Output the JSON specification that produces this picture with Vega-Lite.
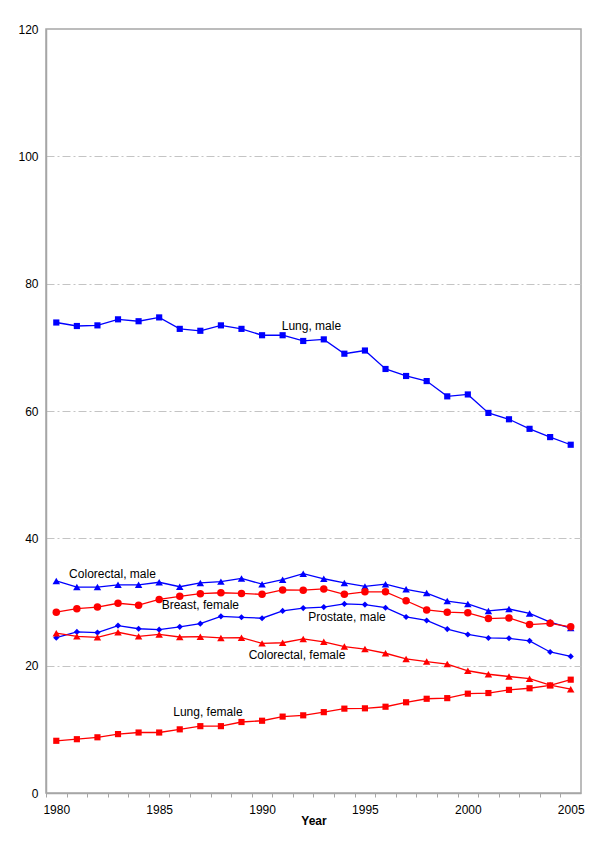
{
  "$schema": "https://vega.github.io/schema/vega-lite/v6.json",
  "description": "Age-standardised cancer rates by site and sex, 1980-2005.",
  "width": 535,
  "height": 764,
  "autosize": "none",
  "padding": {"left": 46, "top": 29, "right": 19, "bottom": 56},
  "background": "white",
  "config": {
    "font": "Liberation Sans",
    "view": {"stroke": "#a6a6a6", "strokeWidth": 1.5},
    "axis": {
      "labelFont": "Liberation Sans",
      "labelFontSize": 12,
      "labelColor": "black",
      "titleFont": "Liberation Sans",
      "titleColor": "black",
      "domainColor": "#a6a6a6",
      "domainWidth": 1.5,
      "tickColor": "#a6a6a6"
    }
  },
  "datasets": {
    "rates": [
      {"year": 1980, "series": "Lung, male", "rate": 73.9},
      {"year": 1981, "series": "Lung, male", "rate": 73.35},
      {"year": 1982, "series": "Lung, male", "rate": 73.45},
      {"year": 1983, "series": "Lung, male", "rate": 74.4},
      {"year": 1984, "series": "Lung, male", "rate": 74.1},
      {"year": 1985, "series": "Lung, male", "rate": 74.7},
      {"year": 1986, "series": "Lung, male", "rate": 72.9},
      {"year": 1987, "series": "Lung, male", "rate": 72.6},
      {"year": 1988, "series": "Lung, male", "rate": 73.45},
      {"year": 1989, "series": "Lung, male", "rate": 72.9},
      {"year": 1990, "series": "Lung, male", "rate": 71.9},
      {"year": 1991, "series": "Lung, male", "rate": 71.9},
      {"year": 1992, "series": "Lung, male", "rate": 71.0},
      {"year": 1993, "series": "Lung, male", "rate": 71.25},
      {"year": 1994, "series": "Lung, male", "rate": 69.0},
      {"year": 1995, "series": "Lung, male", "rate": 69.5},
      {"year": 1996, "series": "Lung, male", "rate": 66.6},
      {"year": 1997, "series": "Lung, male", "rate": 65.5},
      {"year": 1998, "series": "Lung, male", "rate": 64.7},
      {"year": 1999, "series": "Lung, male", "rate": 62.3},
      {"year": 2000, "series": "Lung, male", "rate": 62.6},
      {"year": 2001, "series": "Lung, male", "rate": 59.7},
      {"year": 2002, "series": "Lung, male", "rate": 58.7},
      {"year": 2003, "series": "Lung, male", "rate": 57.2},
      {"year": 2004, "series": "Lung, male", "rate": 55.9},
      {"year": 2005, "series": "Lung, male", "rate": 54.7},
      {"year": 1980, "series": "Colorectal, male", "rate": 33.3},
      {"year": 1981, "series": "Colorectal, male", "rate": 32.35},
      {"year": 1982, "series": "Colorectal, male", "rate": 32.35},
      {"year": 1983, "series": "Colorectal, male", "rate": 32.7},
      {"year": 1984, "series": "Colorectal, male", "rate": 32.7},
      {"year": 1985, "series": "Colorectal, male", "rate": 33.1},
      {"year": 1986, "series": "Colorectal, male", "rate": 32.4},
      {"year": 1987, "series": "Colorectal, male", "rate": 33.0},
      {"year": 1988, "series": "Colorectal, male", "rate": 33.2},
      {"year": 1989, "series": "Colorectal, male", "rate": 33.7},
      {"year": 1990, "series": "Colorectal, male", "rate": 32.8},
      {"year": 1991, "series": "Colorectal, male", "rate": 33.5},
      {"year": 1992, "series": "Colorectal, male", "rate": 34.45},
      {"year": 1993, "series": "Colorectal, male", "rate": 33.65},
      {"year": 1994, "series": "Colorectal, male", "rate": 33.0},
      {"year": 1995, "series": "Colorectal, male", "rate": 32.45},
      {"year": 1996, "series": "Colorectal, male", "rate": 32.8},
      {"year": 1997, "series": "Colorectal, male", "rate": 32.0},
      {"year": 1998, "series": "Colorectal, male", "rate": 31.4},
      {"year": 1999, "series": "Colorectal, male", "rate": 30.15},
      {"year": 2000, "series": "Colorectal, male", "rate": 29.7},
      {"year": 2001, "series": "Colorectal, male", "rate": 28.6},
      {"year": 2002, "series": "Colorectal, male", "rate": 28.9},
      {"year": 2003, "series": "Colorectal, male", "rate": 28.2},
      {"year": 2004, "series": "Colorectal, male", "rate": 26.85},
      {"year": 2005, "series": "Colorectal, male", "rate": 25.9},
      {"year": 1980, "series": "Breast, female", "rate": 28.4},
      {"year": 1981, "series": "Breast, female", "rate": 28.95},
      {"year": 1982, "series": "Breast, female", "rate": 29.2},
      {"year": 1983, "series": "Breast, female", "rate": 29.8},
      {"year": 1984, "series": "Breast, female", "rate": 29.5},
      {"year": 1985, "series": "Breast, female", "rate": 30.4},
      {"year": 1986, "series": "Breast, female", "rate": 30.9},
      {"year": 1987, "series": "Breast, female", "rate": 31.3},
      {"year": 1988, "series": "Breast, female", "rate": 31.45},
      {"year": 1989, "series": "Breast, female", "rate": 31.35},
      {"year": 1990, "series": "Breast, female", "rate": 31.2},
      {"year": 1991, "series": "Breast, female", "rate": 31.9},
      {"year": 1992, "series": "Breast, female", "rate": 31.85},
      {"year": 1993, "series": "Breast, female", "rate": 32.05},
      {"year": 1994, "series": "Breast, female", "rate": 31.2},
      {"year": 1995, "series": "Breast, female", "rate": 31.6},
      {"year": 1996, "series": "Breast, female", "rate": 31.6},
      {"year": 1997, "series": "Breast, female", "rate": 30.2},
      {"year": 1998, "series": "Breast, female", "rate": 28.75},
      {"year": 1999, "series": "Breast, female", "rate": 28.4},
      {"year": 2000, "series": "Breast, female", "rate": 28.3},
      {"year": 2001, "series": "Breast, female", "rate": 27.4},
      {"year": 2002, "series": "Breast, female", "rate": 27.5},
      {"year": 2003, "series": "Breast, female", "rate": 26.45},
      {"year": 2004, "series": "Breast, female", "rate": 26.65},
      {"year": 2005, "series": "Breast, female", "rate": 26.1},
      {"year": 1980, "series": "Prostate, male", "rate": 24.4},
      {"year": 1981, "series": "Prostate, male", "rate": 25.3},
      {"year": 1982, "series": "Prostate, male", "rate": 25.2},
      {"year": 1983, "series": "Prostate, male", "rate": 26.3},
      {"year": 1984, "series": "Prostate, male", "rate": 25.8},
      {"year": 1985, "series": "Prostate, male", "rate": 25.65},
      {"year": 1986, "series": "Prostate, male", "rate": 26.1},
      {"year": 1987, "series": "Prostate, male", "rate": 26.6},
      {"year": 1988, "series": "Prostate, male", "rate": 27.75},
      {"year": 1989, "series": "Prostate, male", "rate": 27.6},
      {"year": 1990, "series": "Prostate, male", "rate": 27.45},
      {"year": 1991, "series": "Prostate, male", "rate": 28.6},
      {"year": 1992, "series": "Prostate, male", "rate": 29.05},
      {"year": 1993, "series": "Prostate, male", "rate": 29.2},
      {"year": 1994, "series": "Prostate, male", "rate": 29.7},
      {"year": 1995, "series": "Prostate, male", "rate": 29.6},
      {"year": 1996, "series": "Prostate, male", "rate": 29.1},
      {"year": 1997, "series": "Prostate, male", "rate": 27.65},
      {"year": 1998, "series": "Prostate, male", "rate": 27.1},
      {"year": 1999, "series": "Prostate, male", "rate": 25.75},
      {"year": 2000, "series": "Prostate, male", "rate": 24.9},
      {"year": 2001, "series": "Prostate, male", "rate": 24.35},
      {"year": 2002, "series": "Prostate, male", "rate": 24.3},
      {"year": 2003, "series": "Prostate, male", "rate": 23.9},
      {"year": 2004, "series": "Prostate, male", "rate": 22.15},
      {"year": 2005, "series": "Prostate, male", "rate": 21.45},
      {"year": 1980, "series": "Colorectal, female", "rate": 25.1},
      {"year": 1981, "series": "Colorectal, female", "rate": 24.6},
      {"year": 1982, "series": "Colorectal, female", "rate": 24.45},
      {"year": 1983, "series": "Colorectal, female", "rate": 25.25},
      {"year": 1984, "series": "Colorectal, female", "rate": 24.6},
      {"year": 1985, "series": "Colorectal, female", "rate": 24.9},
      {"year": 1986, "series": "Colorectal, female", "rate": 24.5},
      {"year": 1987, "series": "Colorectal, female", "rate": 24.55},
      {"year": 1988, "series": "Colorectal, female", "rate": 24.35},
      {"year": 1989, "series": "Colorectal, female", "rate": 24.4},
      {"year": 1990, "series": "Colorectal, female", "rate": 23.5},
      {"year": 1991, "series": "Colorectal, female", "rate": 23.6},
      {"year": 1992, "series": "Colorectal, female", "rate": 24.2},
      {"year": 1993, "series": "Colorectal, female", "rate": 23.75},
      {"year": 1994, "series": "Colorectal, female", "rate": 23.0},
      {"year": 1995, "series": "Colorectal, female", "rate": 22.6},
      {"year": 1996, "series": "Colorectal, female", "rate": 21.95},
      {"year": 1997, "series": "Colorectal, female", "rate": 21.05},
      {"year": 1998, "series": "Colorectal, female", "rate": 20.65},
      {"year": 1999, "series": "Colorectal, female", "rate": 20.25},
      {"year": 2000, "series": "Colorectal, female", "rate": 19.2},
      {"year": 2001, "series": "Colorectal, female", "rate": 18.65},
      {"year": 2002, "series": "Colorectal, female", "rate": 18.3},
      {"year": 2003, "series": "Colorectal, female", "rate": 17.95},
      {"year": 2004, "series": "Colorectal, female", "rate": 16.95},
      {"year": 2005, "series": "Colorectal, female", "rate": 16.3},
      {"year": 1980, "series": "Lung, female", "rate": 8.2},
      {"year": 1981, "series": "Lung, female", "rate": 8.45},
      {"year": 1982, "series": "Lung, female", "rate": 8.75},
      {"year": 1983, "series": "Lung, female", "rate": 9.25},
      {"year": 1984, "series": "Lung, female", "rate": 9.5},
      {"year": 1985, "series": "Lung, female", "rate": 9.5},
      {"year": 1986, "series": "Lung, female", "rate": 10.0},
      {"year": 1987, "series": "Lung, female", "rate": 10.5},
      {"year": 1988, "series": "Lung, female", "rate": 10.5},
      {"year": 1989, "series": "Lung, female", "rate": 11.15},
      {"year": 1990, "series": "Lung, female", "rate": 11.35},
      {"year": 1991, "series": "Lung, female", "rate": 12.0},
      {"year": 1992, "series": "Lung, female", "rate": 12.2},
      {"year": 1993, "series": "Lung, female", "rate": 12.7},
      {"year": 1994, "series": "Lung, female", "rate": 13.25},
      {"year": 1995, "series": "Lung, female", "rate": 13.3},
      {"year": 1996, "series": "Lung, female", "rate": 13.55},
      {"year": 1997, "series": "Lung, female", "rate": 14.25},
      {"year": 1998, "series": "Lung, female", "rate": 14.8},
      {"year": 1999, "series": "Lung, female", "rate": 14.9},
      {"year": 2000, "series": "Lung, female", "rate": 15.6},
      {"year": 2001, "series": "Lung, female", "rate": 15.7},
      {"year": 2002, "series": "Lung, female", "rate": 16.2},
      {"year": 2003, "series": "Lung, female", "rate": 16.45},
      {"year": 2004, "series": "Lung, female", "rate": 16.9},
      {"year": 2005, "series": "Lung, female", "rate": 17.8}
    ],
    "labels": [
      {"label": "Lung, male", "year": 1992.4, "rate": 73.35},
      {"label": "Colorectal, male", "year": 1982.73, "rate": 34.4},
      {"label": "Breast, female", "year": 1987.0, "rate": 29.5},
      {"label": "Prostate, male", "year": 1994.13, "rate": 27.7},
      {"label": "Colorectal, female", "year": 1991.7, "rate": 21.67},
      {"label": "Lung, female", "year": 1987.37, "rate": 12.75}
    ]
  },
  "encoding": {
    "x": {
      "field": "year",
      "type": "quantitative",
      "scale": {"domain": [1979.5, 2005.5], "nice": false, "zero": false},
      "axis": {
        "title": "Year",
        "titleFontWeight": "bold",
        "titleFontSize": 12,
        "titlePadding": 0,
        "values": [1980, 1981, 1982, 1983, 1984, 1985, 1986, 1987, 1988, 1989, 1990, 1991, 1992, 1993, 1994, 1995, 1996, 1997, 1998, 1999, 2000, 2001, 2002, 2003, 2004, 2005],
        "format": "d",
        "labelExpr": "datum.value % 5 === 0 ? datum.label : ''",
        "tickOffset": -10.29,
        "labelOffset": 10.29,
        "tickSize": 4,
        "labelPadding": 7,
        "labelFlush": false,
        "labelOverlap": false,
        "grid": false
      }
    },
    "y": {
      "field": "rate",
      "type": "quantitative",
      "scale": {"domain": [0, 120], "nice": false},
      "axis": {
        "title": null,
        "values": [0, 20, 40, 60, 80, 100, 120],
        "ticks": false,
        "labelPadding": 8,
        "grid": true,
        "gridColor": {
          "condition": {"test": "datum.value === 0 || datum.value === 120", "value": "transparent"},
          "value": "#c4c4c4"
        },
        "gridDash": [8, 3, 2, 3],
        "gridWidth": 1
      }
    },
    "color": {
      "field": "series",
      "type": "nominal",
      "scale": {
        "domain": ["Lung, male", "Colorectal, male", "Prostate, male", "Breast, female", "Colorectal, female", "Lung, female"],
        "range": ["#0000ff", "#0000ff", "#0000ff", "#ff0000", "#ff0000", "#ff0000"]
      },
      "legend": null
    },
    "shape": {
      "field": "series",
      "type": "nominal",
      "scale": {
        "domain": ["Lung, male", "Colorectal, male", "Prostate, male", "Breast, female", "Colorectal, female", "Lung, female"],
        "range": ["square", "triangle-up", "diamond", "circle", "triangle-up", "square"]
      },
      "legend": null
    }
  },
  "layer": [
    {
      "data": {"name": "rates"},
      "mark": {"type": "line", "strokeWidth": 1.3},
      "encoding": {"shape": null}
    },
    {
      "data": {"name": "rates"},
      "transform": [{"filter": "indexof(['Lung, male', 'Prostate, male', 'Lung, female'], datum.series) >= 0"}],
      "mark": {"type": "point", "filled": true, "opacity": 1, "size": 38}
    },
    {
      "data": {"name": "rates"},
      "transform": [{"filter": "indexof(['Lung, male', 'Prostate, male', 'Lung, female'], datum.series) < 0"}],
      "mark": {"type": "point", "filled": true, "opacity": 1, "size": 56}
    },
    {
      "data": {"name": "labels"},
      "mark": {"type": "text", "fontSize": 12, "color": "black", "align": "center", "baseline": "middle"},
      "encoding": {"text": {"field": "label"}, "color": null, "shape": null}
    }
  ]
}
